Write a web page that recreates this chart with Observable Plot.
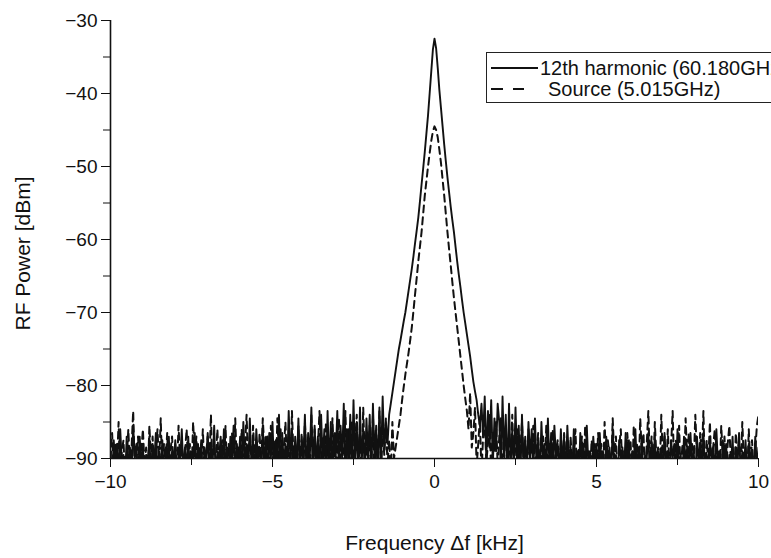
<!DOCTYPE html>
<html><head><meta charset="utf-8">
<script src="https://cdn.jsdelivr.net/npm/d3@7"></script>
<script src="https://cdn.jsdelivr.net/npm/@observablehq/plot@0.6"></script>
<style>
html,body{margin:0;padding:0;background:#fff;overflow:hidden;width:771px;height:558px}
#wrap{position:relative;width:771px;height:558px}
#legend{position:absolute;left:486px;top:52px;width:330px;height:49px;border:1.5px solid #222;background:#fff}
</style></head><body><div id="wrap"></div>
<script>
// Sweep grid (kHz offset from carrier): -10 ... +10 kHz, 401 points
const freqStartKHz = -10, freqStepKHz = 0.05;

// 12th harmonic (60.180 GHz) power, dBm (rows of 1 kHz = 20 points)
const harmonicDbm = [
  /* -10 */ -89, -93, -87.5, -91, -88, -92.5, -86, -90.5, -89.5, -93, -87, -91.5, -88.5, -92, -85.5, -90, -88, -93.5, -87, -91,
  /*  -9 */ -88.5, -92, -89.5, -91, -87, -93, -88, -90.5, -86.5, -92, -89, -91.5, -87.5, -93, -88.5, -90, -87, -92.5, -89, -91,
  /*  -8 */ -87.5, -93, -89, -90.5, -86, -92, -88.5, -91.5, -87, -93, -89.5, -90, -86.5, -92.5, -88, -91, -87.5, -93, -88.5, -90.5,
  /*  -7 */ -86.5, -92, -88, -91, -85.5, -93, -89, -90, -87, -92.5, -86, -91.5, -88.5, -93, -87, -90.5, -85.5, -92, -88, -91,
  /*  -6 */ -87, -93, -85, -90.5, -88, -92, -84.5, -91, -87.5, -93, -86, -90, -88.5, -92.5, -85.5, -91.5, -87, -93, -86.5, -90,
  /*  -5 */ -85, -92, -87.5, -90.5, -84, -93, -86.5, -91, -88, -92, -83.5, -90, -86, -93, -87, -91.5, -84.5, -92, -87.5, -90.5,
  /*  -4 */ -84, -92.5, -86.5, -90, -83, -93, -85.5, -91, -87, -92, -84, -90.5, -86, -93, -83.5, -91.5, -85, -92, -86.5, -90,
  /*  -3 */ -83.5, -92, -85.5, -90, -82.5, -93, -86, -91, -84, -92.5, -82, -90.5, -85, -93, -83, -91, -86, -92, -84.5, -90,
  /*  -2 */ -84, -92.5, -82.5, -90, -85.5, -93, -83, -91, -81.5, -89, -85, -88, -84, -82.5, -81, -79.5, -78, -76.5, -75, -73.8,
  /*  -1 */ -72.5, -71.2, -70, -68.5, -67, -65.5, -64, -62.3, -60.5, -58.8, -57, -54.8, -52.5, -50.3, -48, -45.5, -43, -40, -37, -34,
  /*   0 */ -32.5, -33.8, -36.5, -39.5, -42, -44.5, -47, -49.3, -51.5, -53.5, -55.5, -57.3, -59, -61, -63, -64.8, -66.5, -68.3, -70, -71.5,
  /*   1 */ -73, -74.5, -76, -77.8, -79.5, -80.8, -82, -84, -85.5, -82.5, -87, -81.5, -90, -83.5, -88.5, -82, -91, -84.5, -89, -82.5,
  /*   2 */ -85, -92, -81.5, -90, -84, -93, -82.5, -91, -86, -92, -83, -90.5, -85.5, -93, -84, -91, -87, -92.5, -85, -90,
  /*   3 */ -86, -92, -84.5, -91, -87.5, -93, -85, -90.5, -88, -92, -84.5, -91.5, -86.5, -93, -85.5, -90, -88, -92.5, -86, -91,
  /*   4 */ -87, -93, -85.5, -90.5, -88.5, -92, -86, -91.5, -89, -93, -86.5, -90, -88, -92.5, -85.5, -91, -89, -93, -87, -90.5,
  /*   5 */ -88, -92.5, -86.5, -91, -89, -93, -87, -90.5, -88.5, -92, -86, -91.5, -89.5, -93, -87.5, -90, -88.5, -92, -86.5, -91,
  /*   6 */ -87.5, -93, -89, -90.5, -86, -92, -88.5, -91.5, -87, -93, -89.5, -90, -86.5, -92.5, -88, -91, -87, -93, -89, -90.5,
  /*   7 */ -88.5, -92, -86.5, -91, -89, -93, -87.5, -90, -88, -92.5, -86, -91.5, -89.5, -93, -87, -90.5, -88.5, -92, -86.5, -91,
  /*   8 */ -89, -93, -87, -90.5, -88, -92, -86.5, -91.5, -89.5, -93, -87.5, -90, -88.5, -92.5, -86, -91, -89, -93, -87.5, -90.5,
  /*   9 */ -88, -92, -89.5, -91, -87, -93, -88.5, -90.5, -86.5, -92, -89, -91.5, -87.5, -93, -88, -90, -89.5, -92.5, -87, -91,
  /*  10 */ -88.5
];

// Source (5.015 GHz) power, dBm, same sweep grid
const sourceDbm = [
  /* -10 */ -90, -86.5, -92, -88, -91, -85, -93, -89, -87.5, -92.5, -90, -86, -91.5, -88.5, -83.5, -92, -90.5, -87, -92, -89,
  /*  -9 */ -86, -91, -88.5, -93, -85.5, -90, -87, -92.5, -89.5, -86, -91, -84.5, -92, -88, -90.5, -86.5, -93, -89, -87, -91.5,
  /*  -8 */ -88, -92, -85.5, -90.5, -87.5, -93, -89, -86, -91.5, -88, -92.5, -85, -90, -87, -93, -88.5, -91, -86, -92, -89.5,
  /*  -7 */ -87, -91, -84, -92.5, -88.5, -90, -86, -93, -89, -87.5, -91.5, -85.5, -92, -88, -90.5, -86.5, -93, -84.5, -91, -88.5,
  /*  -6 */ -90, -86, -92, -88.5, -84, -91, -87, -93, -85.5, -90, -88, -92.5, -86.5, -91, -84.5, -89, -92, -87, -90.5, -85.5,
  /*  -5 */ -91, -87.5, -93, -84.5, -90, -86, -92, -88.5, -85, -91.5, -87, -93, -83.5, -90, -88, -92, -85.5, -91, -86.5, -92.5,
  /*  -4 */ -85, -90.5, -87.5, -93, -84, -91, -86, -92, -88.5, -83.5, -90, -87, -92.5, -85, -91, -88, -93, -84.5, -90, -86.5,
  /*  -3 */ -92, -84.5, -90, -87, -93, -83.5, -91, -86, -92.5, -85, -90, -88, -84, -91.5, -86.5, -93, -83, -90.5, -87.5, -92,
  /*  -2 */ -85.5, -91, -84, -93, -87, -90, -83.5, -92, -86, -89.5, -84.5, -91, -87.5, -92.5, -85, -90, -88.5, -87, -85.5, -84,
  /*  -1 */ -82, -80.2, -78.5, -77, -75.5, -73.8, -72, -69.8, -67.5, -65.3, -63, -61, -59, -56.5, -54, -52, -50, -48.2, -46.5, -45.2,
  /*   0 */ -44.5, -45, -46, -47.7, -49.5, -51.8, -54, -56.5, -59, -61.3, -63.5, -65.8, -68, -70, -72, -74, -76, -78, -80, -81.8,
  /*   1 */ -83.5, -86, -81, -88.5, -86.5, -83, -91, -88, -84.5, -92, -87, -85, -90.5, -88, -84, -92.5, -86.5, -89, -85, -91,
  /*   2 */ -87, -84.5, -92, -88.5, -85.5, -93, -87, -90, -84, -91.5, -88, -86, -92.5, -89, -85, -91, -87.5, -93, -86, -90,
  /*   3 */ -88.5, -85.5, -92, -89, -86.5, -93, -90, -87, -91.5, -85.5, -92.5, -88, -90.5, -86, -93, -89, -87.5, -91, -88, -92,
  /*   4 */ -86.5, -90.5, -88, -93, -87, -91, -89.5, -86, -92.5, -88.5, -90, -87, -93, -85.5, -91, -89, -92, -87.5, -90.5, -88,
  /*   5 */ -92, -86.5, -90, -88, -93, -85, -91, -87.5, -89.5, -92.5, -84.5, -90, -87, -93, -88.5, -86, -91.5, -89, -92, -86.5,
  /*   6 */ -90, -87.5, -93, -85.5, -91, -88, -92, -84.5, -89.5, -86.5, -93, -88, -83.5, -91, -87, -92.5, -85, -90, -88.5, -92,
  /*   7 */ -84, -90.5, -87, -93, -86, -91, -88.5, -83.5, -92, -87.5, -90, -85.5, -93, -88, -91.5, -84.5, -90, -86.5, -92.5, -88,
  /*   8 */ -91, -84, -89.5, -92, -86.5, -90, -83.5, -93, -87.5, -90.5, -85, -92, -88.5, -86, -91.5, -89, -93, -85.5, -90, -87,
  /*   9 */ -92.5, -88, -85.5, -91, -89, -93, -86.5, -90, -87.5, -92, -85, -90.5, -88.5, -93, -86, -91, -87.5, -92, -89, -85.5,
  /*  10 */ -84
];

const seriesNames = ["12th harmonic (60.180GHz)", "Source (5.015GHz)"];
const xTicks = [-10, -5, 0, 5, 10];
const xMinorTicks = [-7.5, -2.5, 2.5, 7.5];
const yTicks = [-90, -80, -70, -60, -50, -40, -30];
const yMinorTicks = [-85, -75, -65, -55, -45, -35];
const xLabel = "Frequency \u0394f [kHz]";
const yLabel = "RF Power [dBm]";

const toRows = (arr) => arr.map((v, i) => ({f: Math.round((freqStartKHz + i * freqStepKHz) * 100) / 100, p: v}));
const harmonic = toRows(harmonicDbm);
const source = toRows(sourceDbm);
const fmt = d => d < 0 ? "\u2212" + Math.abs(d) : String(d);
const FONT = "'Liberation Sans', Arial, sans-serif";

const chart = Plot.plot({
  width: 771,
  height: 558,
  marginLeft: 110,
  marginRight: 13,
  marginTop: 20,
  marginBottom: 100,
  x: {domain: [-10, 10]},
  y: {domain: [-90, -30]},
  style: {fontFamily: FONT, fontSize: "19px", color: "#111", background: "white"},
  marks: [
    Plot.line(source, {x: "f", y: "p", stroke: "#111", strokeWidth: 2, strokeDasharray: "7,5", clip: true}),
    Plot.line(harmonic, {x: "f", y: "p", stroke: "#111", strokeWidth: 1.9, clip: true}),
    Plot.ruleX([-10], {stroke: "#111", strokeWidth: 1.6}),
    Plot.ruleY([-90], {stroke: "#111", strokeWidth: 1.6}),
    Plot.axisX({ticks: xTicks, tickSize: 9, tickPadding: 7, label: null, tickFormat: fmt}),
    Plot.axisX({ticks: xMinorTicks, tickSize: 7, label: null, tickFormat: () => ""}),
    Plot.axisY({ticks: yTicks, tickSize: 9, tickPadding: 4, label: null, tickFormat: fmt}),
    Plot.axisY({ticks: yMinorTicks, tickSize: 7, label: null, tickFormat: () => ""}),
    Plot.text([xLabel], {frameAnchor: "bottom", lineAnchor: "middle", textAnchor: "middle", dy: 85, fontSize: 21, fill: "#111"}),
    Plot.text([yLabel], {frameAnchor: "left", lineAnchor: "middle", textAnchor: "middle", dx: -87, dy: 14, rotate: -90, fontSize: 21, fill: "#111"})
  ]
});
document.getElementById("wrap").appendChild(chart);

// Legend box (runs past the page edge, as in the original)
const lg = d3.select("#wrap").append("div").attr("id", "legend");
const ls = lg.append("svg").attr("width", 330).attr("height", 49).style("position", "absolute").style("left", 0).style("top", 0);
const rows = [
  {name: seriesNames[0], dash: null, y: 15, x2: 51, tx: 53},
  {name: seriesNames[1], dash: "12,10", y: 36, x2: 37, tx: 61}
];
rows.forEach(r => {
  ls.append("line").attr("x1", 4).attr("x2", r.x2).attr("y1", r.y).attr("y2", r.y)
    .attr("stroke", "#111").attr("stroke-width", 2).attr("stroke-dasharray", r.dash);
  ls.append("text").attr("x", r.tx).attr("y", r.y).attr("dy", "0.36em")
    .attr("font-family", FONT).attr("font-size", 20).attr("fill", "#111").text(r.name);
});
</script>
</body></html>
